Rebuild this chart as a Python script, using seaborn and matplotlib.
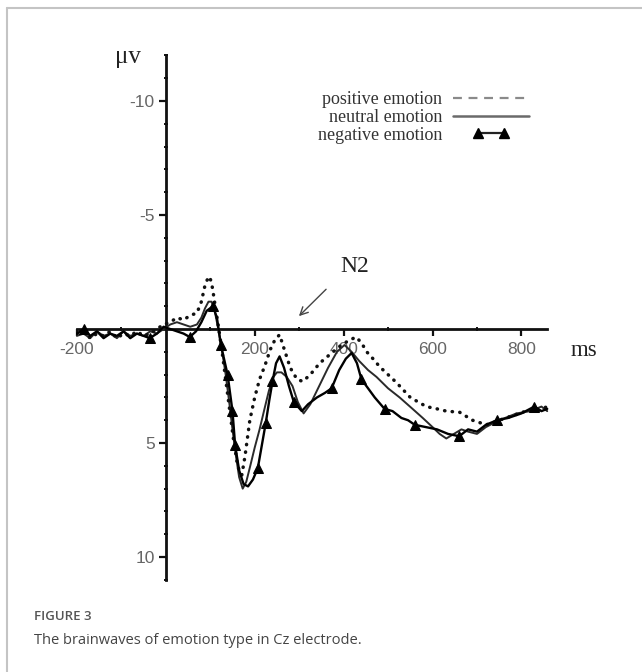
import numpy as np
import pandas as pd
import matplotlib
matplotlib.use("Agg")
import matplotlib.pyplot as plt
import seaborn as sns
from matplotlib.lines import Line2D
from matplotlib.legend_handler import HandlerLine2D

# ---------------- data ----------------
pos_ms = [-200, -185, -170, -155, -140, -125, -110, -95, -80, -65,
          -50, -35, -20, -5, 10, 25, 40, 55, 70, 80,
          88, 94, 99, 105, 112, 120, 128, 136, 144, 152,
          160, 166, 171, 178, 189, 200, 211, 223, 235, 246,
          256, 265, 280, 295, 308, 325, 346, 370, 395, 412,
          428, 440, 452, 466, 481, 500, 519, 550, 586, 610,
          631, 661, 690, 721, 750, 780, 810, 835, 858]
pos_uv = [0.2, 0.1, 0.4, 0.2, 0.3, 0.1, 0.4, 0.2, 0.3, 0.1,
          0.3, 0.2, 0.0, -0.2, -0.3, -0.5, -0.4, -0.6, -0.7, -1.2,
          -1.9, -2.2, -2.3, -1.8, -0.9, 0.1, 1.2, 2.4, 3.6, 4.8,
          5.8, 6.3, 6.4, 5.6, 4.0, 3.0, 2.2, 1.6, 0.9, 0.45,
          0.25, 0.8, 1.7, 2.2, 2.3, 2.0, 1.5, 1.1, 0.7, 0.5,
          0.35, 0.6, 1.0, 1.3, 1.65, 2.0, 2.35, 3.0, 3.4, 3.5,
          3.6, 3.65, 4.0, 4.2, 4.0, 3.8, 3.6, 3.6, 3.4]

neu_ms = [-200, -185, -170, -155, -140, -125, -110, -95, -80, -65,
          -50, -35, -20, -5, 10, 25, 40, 55, 70, 80,
          88, 96, 103, 110, 118, 126, 134, 142, 150, 158,
          165, 173, 181, 190, 200, 211, 222, 232, 242, 250,
          260, 272, 285, 297, 310, 325, 345, 365, 385, 402,
          418, 435, 455, 474, 500, 526, 555, 578, 600, 616,
          631, 648, 665, 680, 700, 720, 750, 789, 820, 845,
          858]
neu_uv = [0.3, 0.2, 0.4, 0.1, 0.3, 0.2, 0.4, 0.1, 0.3, 0.2,
          0.3, 0.1, 0.2, 0.0, -0.2, -0.3, -0.2, -0.1, -0.2, -0.5,
          -0.9, -1.2, -1.2, -0.8, 0.0, 0.9, 1.9, 3.1, 4.4, 5.6,
          6.5, 7.0, 6.7, 6.0, 5.2, 4.4, 3.5, 2.7, 2.1, 1.9,
          1.9, 2.1, 2.5, 3.2, 3.7, 3.3, 2.5, 1.7, 1.0, 0.7,
          1.0, 1.4, 1.8, 2.1, 2.6, 3.0, 3.5, 3.9, 4.3, 4.6,
          4.8, 4.6, 4.4, 4.5, 4.6, 4.3, 4.0, 3.7, 3.6, 3.4,
          3.6]

neg_ms = [-200, -185, -170, -155, -140, -125, -110, -95, -80, -65,
          -50, -36, -20, -5, 10, 25, 40, 54, 68, 80,
          92, 106, 115, 124, 139, 150, 156, 165, 175, 185,
          196, 207, 216, 225, 233, 240, 248, 256, 266, 277,
          288, 297, 306, 320, 340, 358, 373, 390, 405, 418,
          430, 440, 455, 470, 492, 510, 530, 545, 560, 585,
          610, 635, 660, 680, 700, 720, 745, 770, 800, 829,
          845, 858]
neg_uv = [0.2, 0.0, 0.3, 0.1, 0.4, 0.2, 0.3, 0.1, 0.4, 0.2,
          0.3, 0.4, 0.2, -0.1, 0.0, 0.1, 0.2, 0.35, 0.1, -0.3,
          -0.8, -1.0, -0.5, 0.7, 2.0, 3.6, 5.1, 6.2, 6.8, 6.9,
          6.6, 6.1, 5.1, 4.1, 3.1, 2.3, 1.5, 1.2, 1.7, 2.5,
          3.2, 3.4, 3.6, 3.3, 3.0, 2.8, 2.6, 1.8, 1.3, 1.05,
          1.5, 2.2, 2.6, 3.0, 3.5, 3.6, 3.9, 4.0, 4.2, 4.3,
          4.4, 4.6, 4.7, 4.4, 4.5, 4.2, 4.0, 3.9, 3.7, 3.4,
          3.6, 3.5]
# sample times at which the triangle markers of the negative curve sit
neg_marker_ms = [-185, -36, 54, 106, 124, 139, 150, 156, 207, 225, 240,
                 288, 373, 440, 492, 560, 660, 745, 829]

series_labels = ["positive emotion", "neutral emotion", "negative emotion"]
x_major = [-200, 200, 400, 600, 800]
x_minor = [-100, 0, 100, 300, 500, 700]
y_major = [-10, -5, 5, 10]
y_minor = list(range(-12, 12))

# ---------------- figure ----------------
sns.set_style("white")
plt.rcParams["font.family"] = ["Liberation Sans", "DejaVu Sans"]
SERIF = ["Liberation Serif", "DejaVu Serif"]

fig = plt.figure(figsize=(6.42, 6.72), dpi=100)
ax = fig.add_axes([76 / 642, 1 - 581 / 672, (549 - 76) / 642, (581 - 52) / 672])
ax.set_facecolor("none")

df_pos = pd.DataFrame({"ms": pos_ms, "uv": pos_uv})
df_neu = pd.DataFrame({"ms": neu_ms, "uv": neu_uv})
df_neg = pd.DataFrame({"ms": neg_ms, "uv": neg_uv})

sns.lineplot(data=df_neu, x="ms", y="uv", ax=ax, color="#2a2a2a", lw=1.4,
             legend=False, sort=False, zorder=3)
sns.lineplot(data=df_pos, x="ms", y="uv", ax=ax, color="#111111", lw=2.5,
             linestyle=(0, (0.1, 2.1)), dash_capstyle="round",
             legend=False, sort=False, zorder=4)
mark_idx = [neg_ms.index(t) for t in neg_marker_ms]
sns.lineplot(data=df_neg, x="ms", y="uv", ax=ax, color="#000000", lw=1.7,
             marker="^", markersize=7.5, markevery=mark_idx,
             markerfacecolor="black", markeredgecolor="black",
             legend=False, sort=False, zorder=5)

ax.set_xlim(-202, 862)
ax.set_ylim(11.05, -12.15)

for s in ["top", "right"]:
    ax.spines[s].set_visible(False)
ax.spines["left"].set_position(("data", 0))
ax.spines["bottom"].set_position(("data", 0))
ax.spines["left"].set_bounds(-12, 11)
ax.spines["bottom"].set_bounds(-200, 858)
for s in ["left", "bottom"]:
    ax.spines[s].set_linewidth(2.0)
    ax.spines[s].set_color("#111111")
    ax.spines[s].set_zorder(2)

ax.set_xticks(x_major)
ax.set_xticks(x_minor, minor=True)
ax.set_yticks(y_major)
ax.set_yticks(y_minor, minor=True)
ax.set_xticklabels([str(v) for v in x_major])
ax.set_yticklabels([str(v) for v in y_major])
ax.tick_params(axis="both", which="both", bottom=True, left=True,
               top=False, right=False)
ax.tick_params(axis="both", which="major", direction="out", length=5, width=1.6,
               color="#111111", labelsize=12.5, labelcolor="#666666", pad=3)
ax.tick_params(axis="x", which="major", pad=4)
ax.tick_params(axis="both", which="minor", direction="inout", length=3.5, width=1.4,
               color="#111111")
ax.set_xlabel("")
ax.set_ylabel("")

# N2 annotation
ax.annotate("", xy=(295, -0.48), xytext=(365, -1.83),
            arrowprops=dict(arrowstyle="->", color="#444444", lw=1.0,
                            mutation_scale=14))
ax.text(425, -2.75, "N2", ha="center", va="center", fontsize=17,
        family=SERIF, color="#222222")

# axis unit labels
fig.text(128 / 642, 1 - 57 / 672, "μv", ha="center", va="center", fontsize=18,
         family=SERIF, color="#222222")
fig.text(584 / 642, 1 - 351 / 672, "ms", ha="center", va="center", fontsize=16.5,
         family=SERIF, color="#222222")

# legend
h_pos = Line2D([], [], color="#8a8a8a", lw=1.6, linestyle=(0, (4, 3)))
h_neu = Line2D([], [], color="#6a6a6a", lw=1.8)
h_neg = Line2D([], [], color="#222222", lw=1.6, marker="^", markersize=7.5,
               markerfacecolor="black", markeredgecolor="black")
leg = fig.legend([h_pos, h_neu, h_neg], series_labels,
                 loc="upper right", bbox_to_anchor=(529 / 642, 1 - 91 / 672),
                 frameon=False, markerfirst=False, handlelength=4.2,
                 handletextpad=0.6, labelspacing=0.05, borderpad=0,
                 borderaxespad=0,
                 prop={"family": SERIF, "size": 13},
                 handler_map={h_neg: HandlerLine2D(numpoints=2, marker_pad=1.4)})
for t in leg.get_texts():
    t.set_color("#333333")

# card border
fig.add_artist(Line2D([7 / 642, 1.0], [1 - 8 / 672, 1 - 8 / 672],
                      transform=fig.transFigure, color="#c4c4c4", lw=1.5))
fig.add_artist(Line2D([7 / 642, 7 / 642], [1 - 8 / 672, 0.0],
                      transform=fig.transFigure, color="#c4c4c4", lw=1.5))

# caption
fig.text(34 / 642, 1 - 617 / 672, "FIGURE 3", ha="left", va="center",
         fontsize=9.5, color="#555555", family=["Open Sans", "DejaVu Sans"],
         fontweight="semibold")
fig.text(34 / 642, 1 - 640 / 672, "The brainwaves of emotion type in Cz electrode.",
         ha="left", va="center", fontsize=10.5, color="#444444",
         family=["Open Sans", "DejaVu Sans"])

fig.savefig("out.png", dpi=100)
